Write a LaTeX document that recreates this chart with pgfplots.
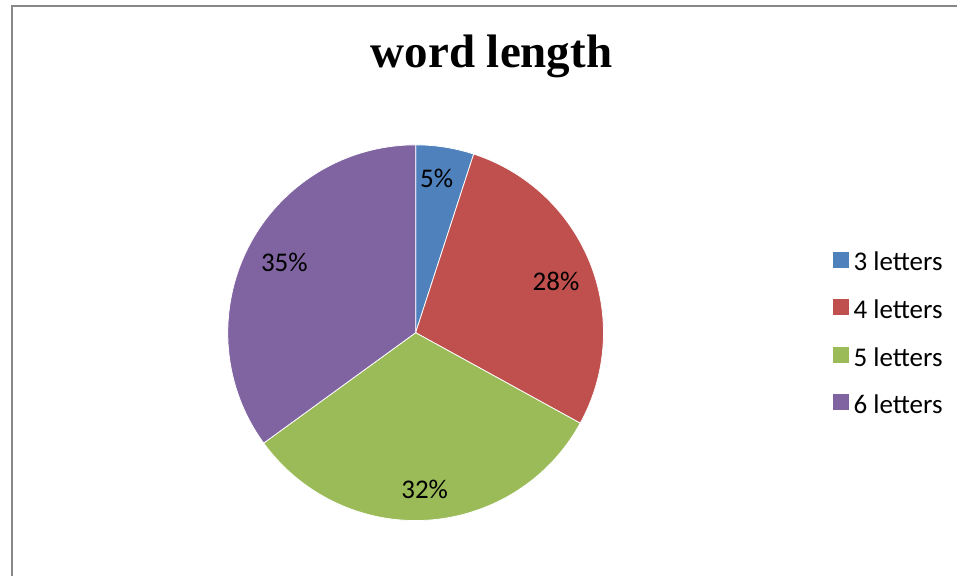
\documentclass[border=0pt]{standalone}
\usepackage{pgfplots}
\pgfplotsset{compat=1.18}
\usepackage{pgfplotstable}
\usepackage{fontspec}
\setmainfont{Liberation Serif}
\newfontfamily\calfont{Carlito}
\definecolor{cA}{HTML}{4F81BD}
\definecolor{cB}{HTML}{C0504D}
\definecolor{cC}{HTML}{9BBB59}
\definecolor{cD}{HTML}{8064A2}
\definecolor{frame}{HTML}{888888}
\pgfplotstableread[col sep=comma]{
label,value
3 letters,5
4 letters,28
5 letters,32
6 letters,35
}\piedata
\begin{document}
\begin{tikzpicture}
\pgfplotstablegetelem{0}{value}\of\piedata \let\vA\pgfplotsretval
\pgfplotstablegetelem{1}{value}\of\piedata \let\vB\pgfplotsretval
\pgfplotstablegetelem{2}{value}\of\piedata \let\vC\pgfplotsretval
\pgfplotstablegetelem{3}{value}\of\piedata \let\vD\pgfplotsretval
\pgfmathsetmacro\aA{90}
\pgfmathsetmacro\aB{\aA-3.6*\vA}
\pgfmathsetmacro\aC{\aB-3.6*\vB}
\pgfmathsetmacro\aD{\aC-3.6*\vC}
\pgfmathsetmacro\aE{\aD-3.6*\vD}
\pgfmathsetmacro\mA{(\aA+\aB)/2+1.2}
\pgfmathsetmacro\mB{(\aB+\aC)/2-1.6}
\pgfmathsetmacro\mC{(\aC+\aD)/2-0.3}
\pgfmathsetmacro\mD{(\aD+\aE)/2-0.9}
\begin{axis}[
  x=1bp, y=1bp, xmin=0, xmax=958, ymin=0, ymax=577,
  hide axis, clip=false,
  legend style={draw=none, fill=none, inner sep=0pt, outer sep=0pt,
    at={(axis cs:834,244)}, anchor=west,
    font=\calfont\fontsize{27bp}{32bp}\selectfont,
    row sep=28.5bp, column sep=5bp,
    nodes={inner sep=0pt, outer sep=0pt, text height=17bp, text depth=0bp}},
  legend cell align=left,
]
\path (axis cs:0,0) rectangle (axis cs:958,577);
\draw[frame, line width=1.7bp] (axis cs:11.8,0) -- (axis cs:11.8,571.2) -- (axis cs:958,571.2);
\fill[cA, draw=white, line width=0.75bp] (axis cs:416,244) -- +(\aA:188bp) arc[start angle=\aA, end angle=\aB, radius=188bp] -- cycle;
\fill[cB, draw=white, line width=0.75bp] (axis cs:416,244) -- +(\aB:188bp) arc[start angle=\aB, end angle=\aC, radius=188bp] -- cycle;
\fill[cC, draw=white, line width=0.75bp] (axis cs:416,244) -- +(\aC:188bp) arc[start angle=\aC, end angle=\aD, radius=188bp] -- cycle;
\fill[cD, draw=white, line width=0.75bp] (axis cs:416,244) -- +(\aD:188bp) arc[start angle=\aD, end angle=\aE, radius=188bp] -- cycle;
\path[every node/.style={font=\calfont\fontsize{27bp}{32bp}\selectfont, inner sep=0pt, text height=17bp, text depth=0bp}]
  (axis cs:416,244) ++(\mA:155.4bp) node {\vA\%}
  (axis cs:416,244) ++(\mB:149.5bp) node {\vB\%}
  (axis cs:416,244) ++(\mC:157.3bp) node {\vC\%}
  (axis cs:416,244) ++(\mD:148.7bp) node {\vD\%};
\node[anchor=base, inner sep=0pt, font=\bfseries\fontsize{47bp}{56bp}\selectfont] at (axis cs:492,509) {word length};
\addlegendimage{legend image code/.code={\fill[cA] (0bp,-4.6bp) rectangle (15bp,10.4bp);}}
\addlegendentry{3 letters}
\addlegendimage{legend image code/.code={\fill[cB] (0bp,-4.6bp) rectangle (15bp,10.4bp);}}
\addlegendentry{4 letters}
\addlegendimage{legend image code/.code={\fill[cC] (0bp,-4.6bp) rectangle (15bp,10.4bp);}}
\addlegendentry{5 letters}
\addlegendimage{legend image code/.code={\fill[cD] (0bp,-4.6bp) rectangle (15bp,10.4bp);}}
\addlegendentry{6 letters}
\end{axis}
\end{tikzpicture}
\end{document}
